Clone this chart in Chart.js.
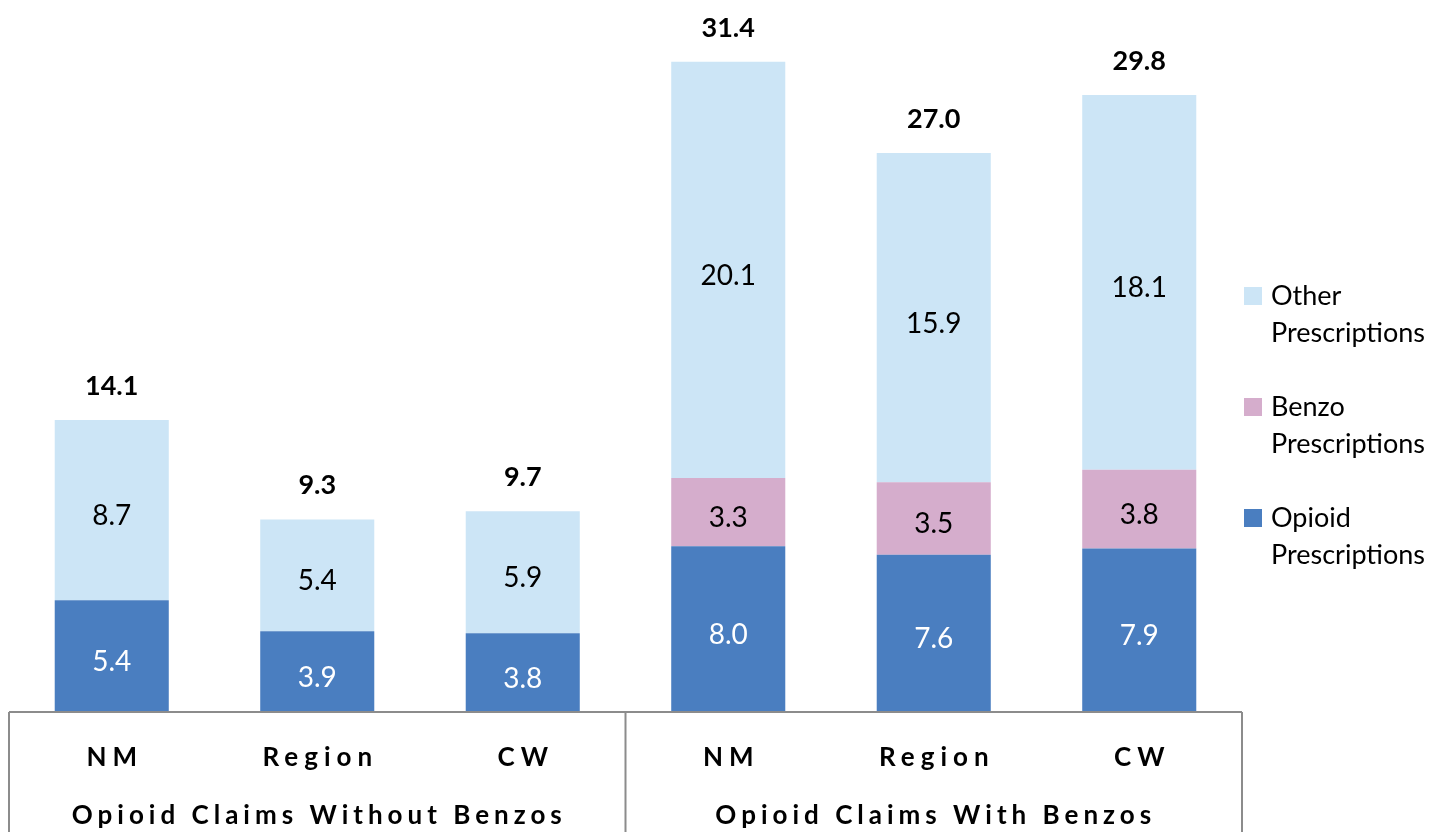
<!DOCTYPE html>
<html>
<head>
<meta charset="utf-8">
<script src="https://cdn.jsdelivr.net/npm/chart.js@4"></script>
<style>
  html, body { margin: 0; padding: 0; background: #fff; }
  #wrap { width: 1456px; height: 832px; }
</style>
</head>
<body>
<div id="wrap"><canvas id="barChart" width="1456" height="832"></canvas></div>
<script>
/* Stacked bars: prescriptions per opioid claim */

let categories = ['N M', 'Region', 'CW', 'N M', 'Region', 'CW'];
let groups = ['Opioid Claims Without Benzos', 'Opioid Claims With Benzos'];
let opioidData = [5.4, 3.9, 3.8, 8.0, 7.6, 7.9];
let benzoData = [null, null, null, 3.3, 3.5, 3.8];
let otherData = [8.7, 5.4, 5.9, 20.1, 15.9, 18.1];
let totals = [14.1, 9.3, 9.7, 31.4, 27.0, 29.8];

const FONT = 'Lato, "Open Sans", sans-serif';
const LINE = '#8c8c8c';

// value labels inside segments + totals on top
let labelPlugin = {
    id: 'labels',
    afterDatasetsDraw(chart) {
        let ctx = chart.ctx;
        ctx.save();
        ctx.textAlign = 'center';
        ctx.textBaseline = 'middle';
        ctx.font = '28px ' + FONT;
        chart.data.datasets.forEach((ds, i) => {
            let meta = chart.getDatasetMeta(i);
            meta.data.forEach((bar, j) => {
                let v = ds.data[j];
                if (v == null) return;
                let mid = (bar.y + bar.base) / 2;
                ctx.fillStyle = i === 0 ? '#ffffff' : '#000000';
                ctx.fillText(v.toFixed(1), bar.x, mid + 6);
            });
        });
        let top = chart.getDatasetMeta(2);
        ctx.font = 'bold 27px ' + FONT;
        ctx.fillStyle = '#000';
        top.data.forEach((bar, j) => {
            ctx.fillText(totals[j].toFixed(1), bar.x, bar.y - 34);
        });
        ctx.restore();
    }
};

// two level category axis with box lines
let axisPlugin = {
    id: 'groupAxis',
    afterDraw(chart) {
        let ctx = chart.ctx;
        let area = chart.chartArea;
        let x = chart.scales.x;
        let bottom = chart.height;
        let mid = (area.left + area.right) / 2;
        ctx.save();
        ctx.strokeStyle = LINE;
        ctx.lineWidth = 2;
        ctx.beginPath();
        ctx.moveTo(area.left, area.bottom);
        ctx.lineTo(area.right, area.bottom);
        [area.left, mid, area.right].forEach(px => {
            ctx.moveTo(px, area.bottom);
            ctx.lineTo(px, bottom);
        });
        ctx.stroke();

        ctx.fillStyle = '#000';
        ctx.textAlign = 'center';
        ctx.textBaseline = 'middle';
        ctx.font = 'bold 26px ' + FONT;
        ctx.letterSpacing = '6px';
        categories.forEach((c, i) => {
            ctx.fillText(c.replace(' ', ''), x.getPixelForValue(i) + 3, area.bottom + 46);
        });
        ctx.letterSpacing = '5px';
        groups.forEach((g, i) => {
            let cx = i === 0 ? (area.left + mid) / 2 : (mid + area.right) / 2;
            ctx.fillText(g, cx + 2, area.bottom + 104);
        });
        ctx.restore();
    }
};

// legend on the right, two lines per item
let legendPlugin = {
    id: 'sideLegend',
    afterDraw(chart) {
        let ctx = chart.ctx;
        let items = [2, 1, 0];
        ctx.save();
        ctx.font = '27px ' + FONT;
        ctx.textBaseline = 'middle';
        ctx.textAlign = 'left';
        items.forEach((di, k) => {
            let ds = chart.data.datasets[di];
            let y = 296 + k * 111;
            ctx.fillStyle = ds.backgroundColor;
            ctx.fillRect(1244, y - 9, 18, 18);
            ctx.fillStyle = '#000';
            ds.label.forEach((line, n) => {
                ctx.fillText(line, 1271, y + n * 37);
            });
        });
        ctx.restore();
    }
};

let chartData = new Chart(document.getElementById('barChart').getContext('2d'), {
    type: 'bar',
    data: {
        labels: categories,
        datasets: [
            { label: ['Opioid', 'Prescriptions'], data: opioidData, backgroundColor: '#4a7ec0' },
            { label: ['Benzo', 'Prescriptions'], data: benzoData, backgroundColor: '#d5adcc' },
            { label: ['Other', 'Prescriptions'], data: otherData, backgroundColor: '#cce5f6' }
        ]
    },
    options: {
        responsive: false,
        animation: false,
        layout: { padding: { left: 9, right: 214, top: 8, bottom: 120 } },
        datasets: { bar: { categoryPercentage: 1, barPercentage: 0.555 } },
        scales: {
            x: { stacked: true, display: false },
            y: { stacked: true, display: false, min: 0, max: 34 }
        },
        plugins: {
            legend: { display: false },
            tooltip: { enabled: false }
        }
    },
    plugins: [labelPlugin, axisPlugin, legendPlugin]
});
</script>
</body>
</html>
